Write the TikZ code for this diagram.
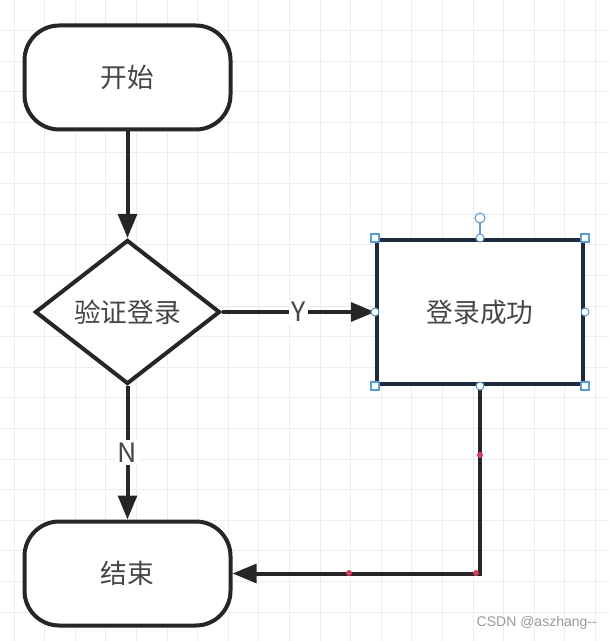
\documentclass[tikz,border=0pt]{standalone}
\usepackage{fontspec}
\setmainfont{Liberation Sans}
\newfontfamily\cjk{Noto Sans CJK SC}
\usetikzlibrary{shapes.geometric,arrows.meta}
\definecolor{linec}{HTML}{262626}
\definecolor{navy}{HTML}{1E2A3A}
\definecolor{txtc}{HTML}{454545}
\definecolor{gridc}{HTML}{EDEDED}
\definecolor{handle}{HTML}{5B9BD5}
\definecolor{reddot}{HTML}{D63A5C}
\tikzset{
  flowline/.style={draw=linec, line width=3pt},
  arrowline/.style={flowline, -{Triangle[length=18pt,width=14pt]}},
  terminal/.style={draw=linec, line width=3pt, fill=white, rectangle, rounded corners=26pt,
    minimum width=154.5pt, minimum height=78pt, inner sep=0pt, font=\cjk\fontsize{20pt}{24pt}\selectfont, text=txtc},
  decision/.style={draw=linec, line width=3pt, fill=white, diamond, aspect=1.28,
    minimum width=138.75pt, minimum height=108pt, inner sep=0pt, font=\cjk\fontsize{20pt}{24pt}\selectfont, text=txtc},
  process/.style={draw=navy, line width=3pt, fill=white, rectangle,
    minimum width=154.5pt, minimum height=108pt, inner sep=0pt, font=\cjk\fontsize{20pt}{24pt}\selectfont, text=txtc},
  edgelabel/.style={fill=white, inner sep=2pt, font=\cjk\fontsize{20pt}{24pt}\selectfont, text=txtc},
  sqhandle/.style={draw=handle, fill=white, line width=0.8pt, rectangle, minimum size=6pt, inner sep=0pt},
  cihandle/.style={draw=handle, fill=white, line width=0.8pt, circle, minimum size=6pt, inner sep=0pt},
  dot/.style={fill=reddot, circle, minimum size=4.5pt, inner sep=0pt}
}
\begin{document}
\begin{tikzpicture}[x=0.75pt,y=-0.75pt]
\fill[white] (0,0) rectangle (609,641);
\useasboundingbox (0,0) rectangle (609,641);
\foreach \i in {0,...,19} \draw[gridc, line width=0.75pt] ({14+30.6*\i},0) -- ({14+30.6*\i},641);
\foreach \j in {0,...,20} \draw[gridc, line width=0.75pt] (0,{30.6*\j}) -- (609,{30.6*\j});

\node[terminal] (start) at (127.5,77.5) {开始};
\node[decision] (check) at (127.5,312) {验证登录};
\node[process] (ok) at (480,312) {登录成功};
\node[terminal] (finish) at (127.5,573.5) {结束};

\draw[arrowline] (start) -- (check);
\draw[arrowline] (check.east) -- node[edgelabel] {Y} (ok.west);
\draw[arrowline] (check.south) -- node[edgelabel] {N} (finish.north);
\coordinate (corner) at (ok.south |- finish.east);
\draw[arrowline, line join=miter] (ok.south) -- (corner) -- (finish.east);

% selection handles
\coordinate (rot) at (480,218);
\draw[handle, line width=0.8pt] (ok.north) -- (480,222);
\node[cihandle, minimum size=7.5pt] (roth) at (rot) {};
\foreach \a in {north west,north east,south west,south east}
  \node[sqhandle] at (ok.\a) {};
\foreach \a in {north,south,east,west}
  \node[cihandle] at (ok.\a) {};

% waypoint dots
\node[dot] (d1) at (480,455) {};
\node[dot] (d2) at (476,573) {};
\node[dot] (d3) at (349,573) {};

\node[anchor=east, text=gray!80, font=\fontsize{10.5pt}{12pt}\selectfont, inner sep=0pt] (wm) at (597,623) {CSDN @aszhang-{}-};
\end{tikzpicture}
\end{document}
